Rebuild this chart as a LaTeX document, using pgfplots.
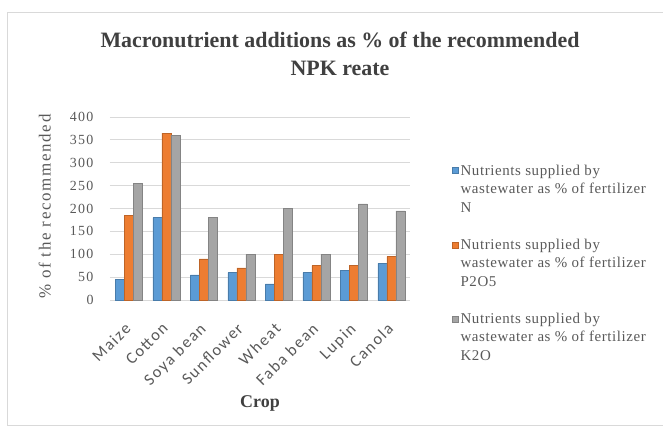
\documentclass[border=0pt]{standalone}
\usepackage{pgfplots}
\pgfplotsset{compat=1.18}
\usepackage{fontspec}
\setmainfont{Liberation Serif}
\newfontfamily\spfont[LetterSpace=10]{Liberation Serif}
\newfontfamily\lgfont[LetterSpace=4]{Liberation Serif}
\newfontfamily\xfont[LetterSpace=10]{Carlito}
\definecolor{cN}{HTML}{5B9BD5}
\definecolor{cP}{HTML}{ED7D31}
\definecolor{cK}{HTML}{A5A5A5}
\definecolor{txt}{HTML}{595959}
\definecolor{gridc}{HTML}{D9D9D9}
\begin{document}
\begin{tikzpicture}[x=1bp,y=1bp]
\draw[gridc] (-103,-125) rectangle (560,288);
\node[font=\bfseries\fontsize{22}{28}\selectfont, text=black!75, align=center] at (230,246) {Macronutrient additions as \% of the recommended\\NPK reate};
\begin{axis}[
  at={(0,0)}, anchor=south west,
  scale only axis, width=300bp, height=183bp,
  xmin=-0.5, xmax=7.5, ymin=0, ymax=400,
  ytick={0,50,...,400},
  ymajorgrids, grid style={color=gridc, line width=0.8pt},
  axis line style={draw=none}, tick style={draw=none},
  ybar=0pt, bar width=9bp,
  xtick={0,...,7},
  xticklabels={Maize,Cotton,Soya bean,Sunflower,Wheat,Faba bean,Lupin,Canola},
  xticklabel style={rotate=45, anchor=north east, font=\xfont\fontsize{16.5}{16.5}\selectfont, text=txt, yshift=-5.4bp, xshift=-12.6bp},
  /pgf/number format/assume math mode=true,
  yticklabel style={font=\spfont\fontsize{14}{14}\selectfont, text=txt, xshift=-13bp},
  ylabel={\% of the recommended},
  every axis y label/.style={at={(axis description cs:-0.217,0.51)}, anchor=center, rotate=90, font=\spfont\fontsize{17}{17}\selectfont, text=txt},
  xlabel={Crop},
  every axis x label/.style={at={(axis description cs:0.5,-0.563)}, anchor=center, font=\bfseries\fontsize{18}{18}\selectfont, text=black!75},
  legend style={at={(axis description cs:1.13,0.2)}, anchor=west, draw=none, fill=none,
    font=\lgfont\fontsize{15}{18.7}\selectfont, text=txt, row sep=21bp,
    cells={align=left, anchor=west}},
  legend cell align=left,
  legend image code/.code={\fill[#1] (0bp,15.7bp) rectangle (6bp,21.7bp);},
]
\addplot[fill=cN, draw=cN!80!black] coordinates {(0,45) (1,180) (2,55) (3,60) (4,35) (5,60) (6,65) (7,80)};
\addplot[fill=cP, draw=cP!80!black] coordinates {(0,185) (1,365) (2,90) (3,70) (4,100) (5,75) (6,75) (7,95)};
\addplot[fill=cK, draw=cK!80!black] coordinates {(0,255) (1,360) (2,180) (3,100) (4,200) (5,100) (6,210) (7,195)};
\legend{Nutrients supplied by\\wastewater as \% of fertilizer\\N, Nutrients supplied by\\wastewater as \% of fertilizer\\P2O5, Nutrients supplied by\\wastewater as \% of fertilizer\\K2O}
\end{axis}
\pgfresetboundingbox
\path (-110,-132) rectangle (553,300);
\end{tikzpicture}
\end{document}
